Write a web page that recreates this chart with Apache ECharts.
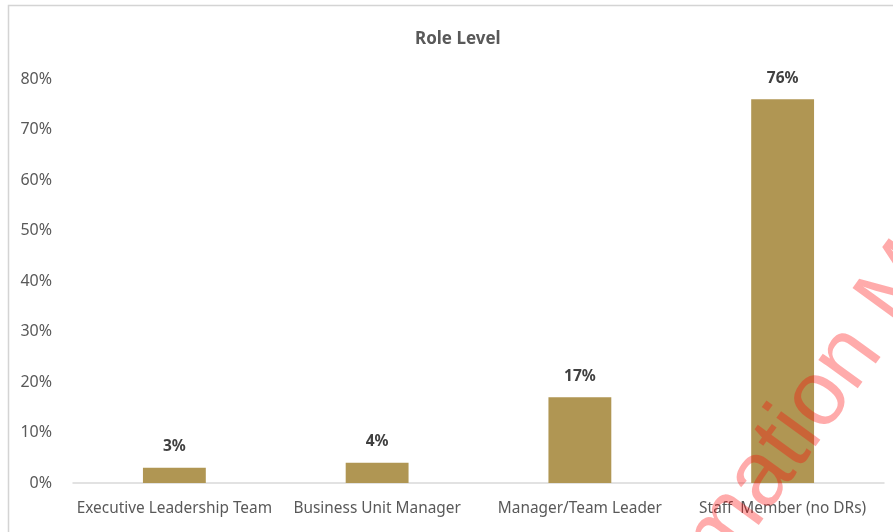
<!DOCTYPE html>
<html>
<head>
<meta charset="utf-8">
<title>Role Level</title>
<script src="https://cdn.jsdelivr.net/npm/echarts@6/dist/echarts.min.js"></script>
<style>
  html, body { margin: 0; padding: 0; background: #ffffff; }
  #chart { width: 893px; height: 532px; }
</style>
</head>
<body>
<div id="chart"></div>
<script>
// Share of respondents by role level (percent)
const chartTitle = 'Role Level';
const categories = ['Executive Leadership Team', 'Business Unit Manager', 'Manager/Team Leader', 'Staff  Member (no DRs)'];
const shares = [3, 4, 17, 76];
const yTicks = [0, 10, 20, 30, 40, 50, 60, 70, 80];

const FONT = '"Noto Sans", "DejaVu Sans", sans-serif';
const WM_FONT = '92px "Liberation Sans", Arial, sans-serif';
const WM_FILL = 'rgba(255,0,0,0.33)';
const chart = echarts.init(document.getElementById('chart'), null, { renderer: 'canvas' });

const wmAngle = 54 * Math.PI / 180;

chart.setOption({
  backgroundColor: '#ffffff',
  animation: false,
  title: {
    text: chartTitle,
    left: 410,
    top: 26,
    textStyle: { fontFamily: FONT, fontSize: 17, fontWeight: 'bold', color: '#595959' }
  },
  grid: { left: 73, right: 9, top: 79, bottom: 49, containLabel: false },
  xAxis: {
    type: 'category',
    data: categories,
    axisLine: { show: true, lineStyle: { color: '#d9d9d9', width: 1.5 } },
    axisTick: { show: false },
    axisLabel: { fontFamily: FONT, fontSize: 15.4, color: '#595959', margin: 18, interval: 0 },
    splitLine: { show: false }
  },
  yAxis: {
    type: 'value',
    min: yTicks[0],
    max: yTicks[yTicks.length - 1],
    interval: yTicks[1] - yTicks[0],
    axisLine: { show: false },
    axisTick: { show: false },
    splitLine: { show: false },
    axisLabel: {
      fontFamily: FONT, fontSize: 16, color: '#595959', margin: 21,
      formatter: v => v + '%'
    }
  },
  series: [{
    type: 'bar',
    data: shares,
    barWidth: '31%',
    itemStyle: { color: '#b09653' },
    z: 2,
    label: {
      show: true,
      position: 'top',
      distance: 13,
      fontFamily: FONT,
      fontSize: 15.5,
      fontWeight: 'bold',
      color: '#404040',
      formatter: p => p.value + '%'
    }
  }],
  graphic: [
    {
      type: 'rect',
      silent: true,
      z: 100,
      shape: { x: 8.5, y: 5.5, width: 1000, height: 1000 },
      style: { fill: 'none', stroke: '#d4d4d4', lineWidth: 1.5 }
    },
    {
      type: 'group',
      x: 767,
      y: 511,
      rotation: wmAngle,
      z: 200,
      silent: true,
      children: [
        {
          type: 'text',
          z: 200,
          style: {
            text: 'Inform',
            x: -2, y: 22,
            align: 'right',
            verticalAlign: 'bottom',
            font: WM_FONT,
            fill: WM_FILL
          }
        },
        {
          type: 'text',
          z: 200,
          style: {
            text: 'ation Matters',
            x: -2, y: 22,
            align: 'left',
            verticalAlign: 'bottom',
            font: WM_FONT,
            fill: WM_FILL
          }
        }
      ]
    }
  ]
});
</script>
</body>
</html>
